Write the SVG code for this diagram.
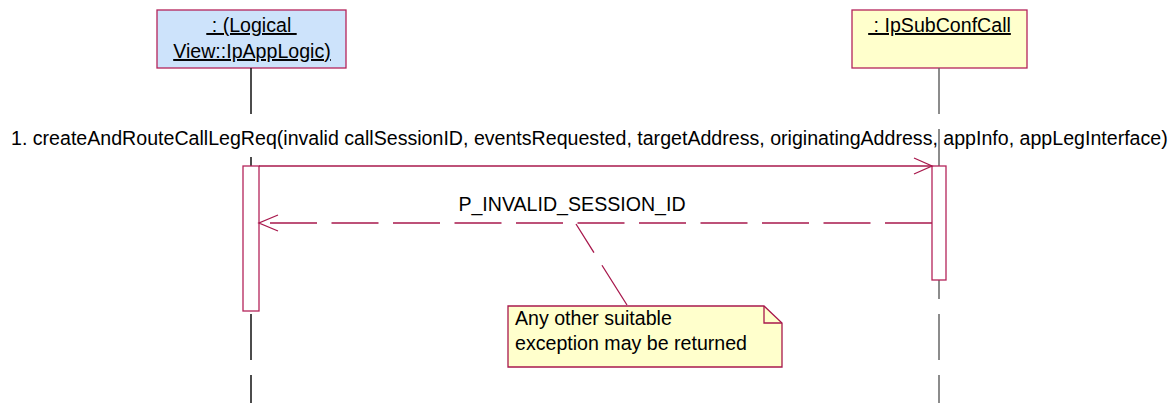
<svg xmlns="http://www.w3.org/2000/svg" width="1175" height="403" viewBox="0 0 1175 403">
<style>
text{font-family:"Liberation Sans",Arial,sans-serif;font-size:19.6px;fill:#000}
.head{stroke:#b4245a;stroke-width:1.3}
.act{fill:#fff;stroke:#b4245a;stroke-width:1.3}
.msg{stroke:#a8184c;stroke-width:1.3;fill:none}
.life{stroke-width:1.5}
.u{text-decoration:underline}
</style>
<rect width="1175" height="403" fill="#fff"/>
<g id="lifeline-applogic">
<rect class="head" x="157" y="10" width="189" height="58" fill="#cde3fb"/>
<text class="u" x="251.5" y="32" text-anchor="middle" xml:space="preserve"> : (Logical </text>
<text class="u" x="252" y="58" text-anchor="middle">View::IpAppLogic)</text>
<g stroke="#111" class="life">
<line x1="251" y1="68" x2="251" y2="114"/>
<line x1="251" y1="157" x2="251" y2="166"/>
<line x1="251" y1="314" x2="251" y2="360"/>
<line x1="251" y1="375" x2="251" y2="403"/>
</g>
<rect class="act" x="243" y="166" width="16" height="145"/>
</g>
<g id="lifeline-subconfcall">
<rect class="head" x="852" y="10" width="175" height="58" fill="#ffffcc"/>
<text class="u" x="939.5" y="32" text-anchor="middle" xml:space="preserve"> : IpSubConfCall</text>
<g stroke="#666" class="life">
<line x1="939" y1="68" x2="939" y2="114"/>
<line x1="939" y1="129" x2="939" y2="166"/>
<line x1="939" y1="280" x2="939" y2="299"/>
<line x1="939" y1="314" x2="939" y2="360"/>
<line x1="939" y1="375" x2="939" y2="403"/>
</g>
<rect class="act" x="932" y="166" width="14" height="114"/>
</g>
<g id="connectors">
<text x="11" y="145">1. createAndRouteCallLegReq(invalid callSessionID, eventsRequested, targetAddress, originatingAddress, appInfo, appLegInterface)</text>
<line class="msg" x1="259" y1="166" x2="932" y2="166"/>
<polyline class="msg" points="914,158 932,166 914,174"/>
<line class="msg" x1="932" y1="223" x2="259" y2="223" stroke-dasharray="47 14.5"/>
<polyline class="msg" points="278,215 259,223 278,231"/>
<text x="572" y="211" text-anchor="middle">P_INVALID_SESSION_ID</text>
<line class="msg" x1="627" y1="305" x2="576" y2="224" stroke-dasharray="47 15"/>
</g>
<g id="note">
<polygon points="508,306 764,306 782,323 782,367 508,367" fill="#ffffcc" stroke="#a8184c" stroke-width="1.3"/>
<polyline points="764,306 764,323 782,323" fill="none" stroke="#a8184c" stroke-width="1.3"/>
<text x="515" y="325">Any other suitable</text>
<text x="515" y="350">exception may be returned</text>
</g>
</svg>
